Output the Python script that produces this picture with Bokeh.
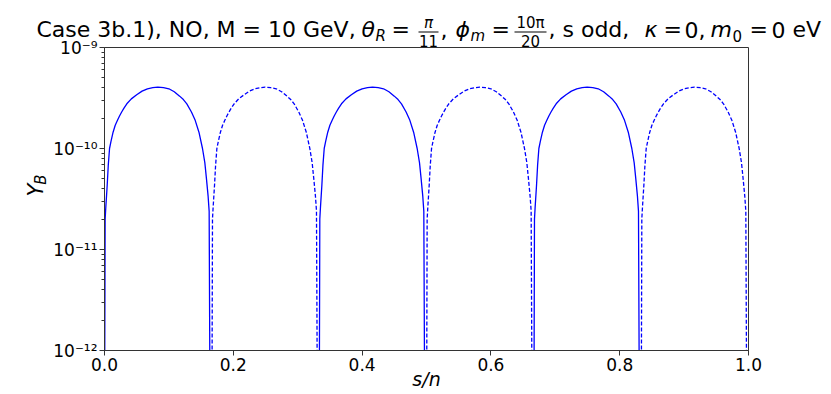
import math
from bokeh.plotting import figure
from bokeh.layouts import column, row
from bokeh.models import (Range1d, FixedTicker, PrintfTickFormatter,
                          CustomJSTickFormatter, ColumnDataSource)
from bokeh.core.properties import value
from bokeh.embed import file_html
from bokeh.resources import INLINE

# ---- data ----
seg_edges = [0.0, 1/6, 2/6, 3/6, 4/6, 5/6, 1.0]
seg_sign = [1, -1, 1, -1, 1, -1]          # +1 solid (Y_B>0), -1 dashed (Y_B<0)
arch_frac = [0.0, 0.006, 0.012, 0.025, 0.035, 0.047, 0.06, 0.08, 0.1, 0.121,
             0.14, 0.16, 0.18, 0.208, 0.25, 0.3, 0.35, 0.4, 0.45, 0.497,
             0.55, 0.6, 0.65, 0.7, 0.735, 0.767, 0.81, 0.845, 0.88, 0.913,
             0.935, 0.95, 0.965, 0.975, 0.985]
arch_val = [1e-13, 2.0e-11, 2.6e-11, 4.3e-11, 6.8e-11, 1.0e-10, 1.17e-10, 1.45e-10, 1.7e-10, 1.9e-10,
            2.1e-10, 2.3e-10, 2.5e-10, 2.77e-10, 3.1e-10, 3.4e-10, 3.7e-10, 3.9e-10, 4.0e-10, 4.05e-10,
            4.0e-10, 3.9e-10, 3.65e-10, 3.3e-10, 3.05e-10, 2.77e-10, 2.3e-10, 1.9e-10, 1.45e-10, 1.0e-10,
            7.2e-11, 5.0e-11, 3.4e-11, 2.4e-11, 1e-13]
x_ticks = [0.0, 0.2, 0.4, 0.6, 0.8, 1.0]
y_ticks = [1e-12, 1e-11, 1e-10, 1e-9]

FONT = "DejaVu Sans"
TW, TH = 831, 50          # title strip (overlapped by the plot row)
OV = 16                   # overlap of the plot row onto the title strip
LW = 50                   # y-label strip width
MW, MH = 781, 394 - TH + OV   # main figure
MTOP = 47 - (TH - OV)     # frame top at page y = 47
MID = 0.346               # baseline offset below text middle, in em


def blank(width, height, xr, yr, fill="white"):
    f = figure(width=width, height=height, output_backend="svg", toolbar_location=None,
               x_range=Range1d(*xr), y_range=Range1d(*yr),
               x_axis_location=None, y_axis_location=None,
               min_border=0, min_border_left=0, min_border_right=0,
               min_border_top=0, min_border_bottom=0)
    f.grid.visible = False
    f.outline_line_color = None
    f.background_fill_color = fill
    f.border_fill_color = fill
    return f


# ---- title strip (coordinates are page pixels; y = text baseline) ----
tf = blank(TW, TH, (0, TW), (TH, 0))
S, SS, FS, DS = 22, 15, 15, 15
BL, SB, NB, DB = 37, 41, 28, 46
pieces = [
    ("Case 3b.1), NO, M = 10 GeV,", 36, BL, S, "normal", "left"),
    ("\u03b8", 361, BL, S, "italic", "left"),
    ("R", 375, SB, SS, "italic", "left"),
    ("=", 391, BL, S, "normal", "left"),
    ("\u03c0", 428, NB, FS, "italic", "center"),
    ("11", 428, DB, DS, "normal", "center"),
    (",", 440, BL, S, "normal", "left"),
    ("\u03d5", 455, BL, S, "italic", "left"),
    ("m", 470, SB, SS, "italic", "left"),
    ("=", 491, BL, S, "normal", "left"),
    ("10\u03c0", 530, NB, FS, "normal", "center"),
    ("20", 530, DB, DS, "normal", "center"),
    (", s odd,", 548, BL, S, "normal", "left"),
    ("\u03ba", 644, BL, S, "italic", "left"),
    ("=", 663, BL, S, "normal", "left"),
    ("0,", 684, BL, S, "normal", "left"),
    ("m", 710, BL, S, "italic", "left"),
    ("0", 732, SB, SS, "normal", "left"),
    ("=", 749, BL, S, "normal", "left"),
    ("0", 771, BL, S, "normal", "left"),
    ("eV", 792, BL, S, "normal", "left"),
]
tsrc = ColumnDataSource(dict(
    text=[q[0] for q in pieces], x=[q[1] for q in pieces],
    y=[q[2] - MID * q[3] for q in pieces],
    size=[f"{q[3]}px" for q in pieces], style=[q[4] for q in pieces],
    align=[q[5] for q in pieces]))
tf.text(x="x", y="y", text="text", source=tsrc, text_font=value(FONT),
        text_font_size="size", text_font_style="style", text_align="align",
        text_baseline="middle", text_color="black")
tf.segment(x0=[418, 514], y0=[31.5, 31.5], x1=[438, 546], y1=[31.5, 31.5],
           line_color="black", line_width=1.2)

# ---- y-label strip (x = baseline position of rotated text) ----
ytop = TH - OV
lf = blank(LW, MH, (0, LW), (ytop + MH, ytop), fill=None)
lf.text(x=[43 - MID * 21, 46 - MID * 15], y=[211, 197], text=["Y", "B"],
        angle=math.pi / 2, text_font=value(FONT), text_font_size=["21px", "15px"],
        text_font_style="italic", text_baseline="middle", text_color="black")

# ---- main plot ----
p = figure(width=MW, height=MH, output_backend="svg", toolbar_location=None,
           y_axis_type="log", x_range=Range1d(0, 1), y_range=Range1d(1e-12, 1e-9),
           min_border_left=54, min_border_right=83, min_border_top=MTOP,
           min_border_bottom=44)
p.grid.visible = False
p.background_fill_color = "white"
p.border_fill_color = None
p.outline_line_color = "#333333"
p.outline_line_width = 1

for i in range(len(seg_sign)):
    s0, s1 = seg_edges[i], seg_edges[i + 1]
    xs = [s0 + f * (s1 - s0) for f in arch_frac]
    p.line(xs, arch_val, line_color="#0000ff", line_width=1.3,
           line_dash="solid" if seg_sign[i] > 0 else "4 2")

AX = "#333333"
for ax in (p.xaxis[0], p.yaxis[0]):
    ax.axis_line_color = AX
    ax.major_tick_line_color = AX
    ax.minor_tick_line_color = AX
    ax.major_tick_in = 0
    ax.major_tick_out = 5
    ax.minor_tick_in = 0
    ax.minor_tick_out = 3
    ax.major_label_text_font = FONT
    ax.major_label_text_font_size = "17px"
    ax.major_label_text_color = "black"

p.xaxis.ticker = FixedTicker(ticks=x_ticks)
p.xaxis.formatter = PrintfTickFormatter(format="%.1f")
p.xaxis.minor_tick_line_color = None
p.xaxis.major_label_standoff = 2
p.xaxis.axis_label = "s/n"
p.xaxis.axis_label_text_font = FONT
p.xaxis.axis_label_text_font_size = "19px"
p.xaxis.axis_label_text_font_style = "italic"
p.xaxis.axis_label_text_color = "black"
p.xaxis.axis_label_standoff = -6

minor = []
for t in y_ticks[:-1]:
    for k in range(2, 10):
        minor.append(k * t)
p.yaxis.ticker = FixedTicker(ticks=y_ticks, minor_ticks=minor)
p.yaxis.formatter = CustomJSTickFormatter(code="""
const e = Math.round(Math.log10(tick));
const sup = {'-':'\u207b','0':'\u2070','1':'\u00b9','2':'\u00b2','3':'\u00b3','4':'\u2074','5':'\u2075','6':'\u2076','7':'\u2077','8':'\u2078','9':'\u2079'};
return '10' + String(e).split('').map(c => sup[c]).join('');
""")
p.yaxis.major_label_standoff = 2

plot_row = row(lf, p, spacing=0, margin=(-OV, 0, 0, 0))
layout = column(tf, plot_row, spacing=0)
open("out.html", "w").write(file_html(layout, INLINE))
